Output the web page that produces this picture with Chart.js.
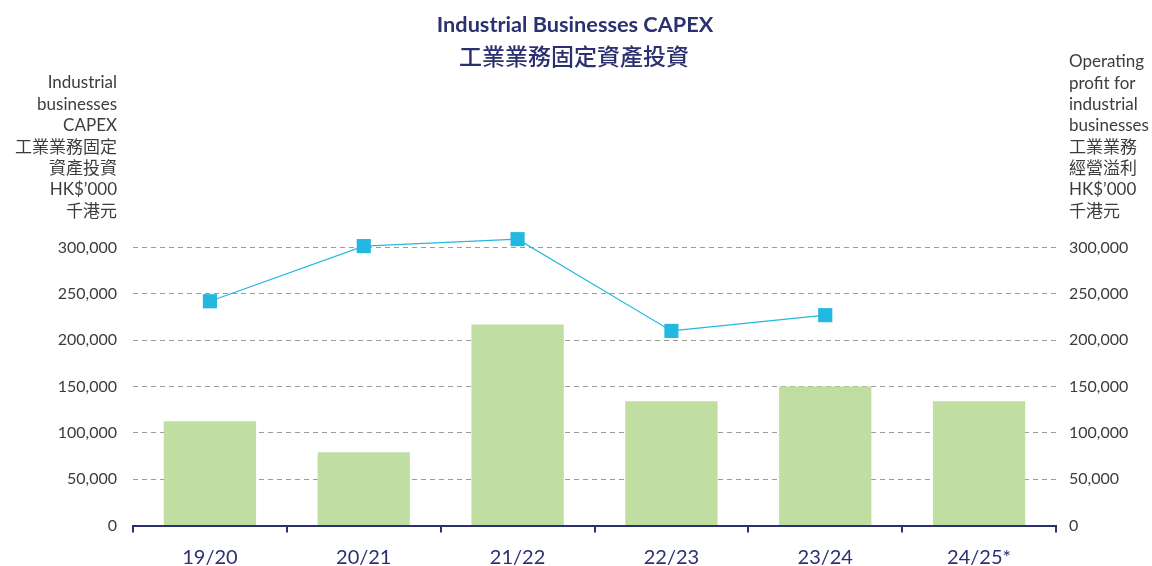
<!DOCTYPE html>
<html>
<head>
<meta charset="utf-8">
<script src="https://cdn.jsdelivr.net/npm/chart.js@4.4.1/dist/chart.umd.min.js"></script>
<style>
html,body{margin:0;padding:0;background:#fff;}
#wrap{width:1152px;height:566px;position:relative;}
</style>
</head>
<body>
<div id="wrap"><canvas id="c" width="1152" height="566"></canvas></div>
<script>
const categories = ['19/20', '20/21', '21/22', '22/23', '23/24', '24/25*'];
const capexValues = [112500, 79000, 217000, 134000, 150000, 134000];
const profitValues = [242000, 301500, 309000, 210000, 227000, null];
const yTickMax = 300000;
const yTickStep = 50000;
const titleLines = ['Industrial Businesses CAPEX', '工業業務固定資產投資'];
const leftAxisTitle = ['Industrial', 'businesses', 'CAPEX', '工業業務固定', '資產投資', 'HK$\u2019000', '千港元'];
const rightAxisTitle = ['Operating', 'profit for', 'industrial', 'businesses', '工業業務', '經營溢利', 'HK$\u2019000', '千港元'];

const FONT = 'Lato, "Noto Sans CJK TC", sans-serif';
const NAVY = '#2b3170';
const TEXT = '#3c3c3c';

const textPlugin = {
  id: 'texts',
  afterDraw(chart) {
    const ctx = chart.ctx;
    ctx.save();
    ctx.textBaseline = 'middle';
    ctx.fillStyle = NAVY;
    ctx.textAlign = 'center';
    ctx.font = 'bold 21.7px ' + FONT;
    ctx.fillText(titleLines[0], 575, 25);
    ctx.font = '500 23px "Noto Sans CJK TC", sans-serif';
    ctx.fillText(titleLines[1], 574, 56);
    ctx.fillStyle = TEXT;
    ctx.font = '17px ' + FONT;
    ctx.textAlign = 'right';
    leftAxisTitle.forEach((t, i) => ctx.fillText(t, 117, 83 + i * 21.4));
    ctx.textAlign = 'left';
    rightAxisTitle.forEach((t, i) => ctx.fillText(t, 1069, 62 + i * 21.3));
    ctx.restore();
  }
};

new Chart(document.getElementById('c'), {
  type: 'bar',
  data: {
    labels: categories,
    datasets: [
      {
        type: 'line',
        label: 'Operating profit',
        data: profitValues,
        yAxisID: 'y1',
        borderColor: '#22b8df',
        backgroundColor: '#22b8df',
        borderWidth: 1.1,
        pointStyle: 'rect',
        pointRadius: 10,
        pointHoverRadius: 10,
        pointBorderWidth: 0,
        tension: 0,
        spanGaps: false,
        clip: false,
        order: 0
      },
      {
        type: 'bar',
        label: 'CAPEX',
        data: capexValues,
        yAxisID: 'y',
        backgroundColor: '#c1dea2',
        borderWidth: 0,
        barPercentage: 0.6,
        categoryPercentage: 1.0,
        order: 1
      }
    ]
  },
  options: {
    responsive: false,
    animation: false,
    layout: { padding: { top: 247.5, left: 0, right: 0, bottom: 0 } },
    plugins: { legend: { display: false }, title: { display: false }, tooltip: { enabled: false } },
    scales: {
      x: {
        offset: true,
        afterFit(s) { s.height = 40.5; },
        grid: { offset: true, drawOnChartArea: false, drawTicks: true, tickLength: 7, color: NAVY, lineWidth: 2 },
        border: { display: true, color: NAVY, width: 2 },
        ticks: { color: NAVY, font: { family: FONT, size: 20 }, padding: 13 }
      },
      y: {
        position: 'left',
        min: 0,
        max: yTickMax,
        afterFit(s) { s.width = 133; },
        ticks: {
          stepSize: yTickStep,
          padding: 16,
          color: TEXT,
          font: { family: FONT, size: 16 },
          callback: v => v.toLocaleString('en-US')
        },
        grid: {
          drawTicks: false,
          lineWidth: 1,
          color: c => (c.tick && c.tick.value === 0) ? 'rgba(0,0,0,0)' : '#9c9c9c'
        },
        border: { display: false, dash: [5, 4] }
      },
      y1: {
        position: 'right',
        min: 0,
        max: yTickMax,
        afterFit(s) { s.width = 96; },
        ticks: {
          stepSize: yTickStep,
          padding: 13,
          color: TEXT,
          font: { family: FONT, size: 16 },
          callback: v => v.toLocaleString('en-US')
        },
        grid: { drawOnChartArea: false, drawTicks: false },
        border: { display: false }
      }
    }
  },
  plugins: [textPlugin]
});
</script>
</body>
</html>
